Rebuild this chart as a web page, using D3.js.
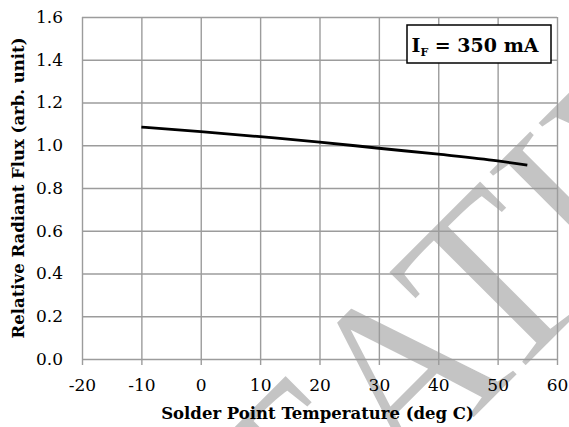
<!DOCTYPE html>
<html>
<head>
<meta charset="utf-8">
<script src="https://cdn.jsdelivr.net/npm/d3@7"></script>
<style>
  body { margin: 0; background: #fff; }
</style>
</head>
<body>
<div id="chart"></div>
<script>
// Data
const temps = [-10, 0, 10, 20, 30, 40, 50, 55];
const flux = [1.085, 1.064, 1.040, 1.015, 0.986, 0.958, 0.927, 0.907];
const xTicks = [-20, -10, 0, 10, 20, 30, 40, 50, 60];
const yTicks = [0, 0.2, 0.4, 0.6, 0.8, 1.0, 1.2, 1.4, 1.6];
const xLabel = "Solder Point Temperature (deg C)";
const yLabel = "Relative Radiant Flux (arb. unit)";
const legendMain = "I";
const legendSub = "F";
const legendRest = " = 350 mA";
const watermarkLeft = "TENT";
const watermarkRight = "ATIVE";

const width = 569;
const height = 427;
const marginTop = 17;
const marginRight = 12;
const marginBottom = 68;
const marginLeft = 82;

const data = temps.map((t, i) => ({ t, v: flux[i] }));

const x = d3.scaleLinear()
    .domain([-20, 60])
    .range([marginLeft, width - marginRight]);

const y = d3.scaleLinear()
    .domain([0, 1.6])
    .range([height - marginBottom, marginTop]);

const svg = d3.select("#chart")
    .append("svg")
    .attr("width", width)
    .attr("height", height)
    .attr("viewBox", [0, 0, width, height]);

svg.append("rect")
    .attr("width", width)
    .attr("height", height)
    .attr("fill", "#fff");

// Watermark behind the chart
const wm = svg.append("g")
    .attr("transform", "translate(404,488) rotate(-45) scale(0.9,1)")
    .attr("fill", "#c4c4c4")
    .attr("stroke", "#fff")
    .attr("stroke-width", 1.5)
    .style("font-family", "'Liberation Serif', serif")
    .style("font-size", "250px");
wm.append("text").attr("text-anchor", "end").text(watermarkLeft);
wm.append("text").attr("text-anchor", "start").text(watermarkRight);

const serif = "'DejaVu Serif', serif";
const gridColor = "#9c9c9c";

// Vertical grid lines + x axis
svg.append("g")
    .attr("transform", `translate(0,${height - marginBottom})`)
    .call(d3.axisBottom(x).tickValues(xTicks).tickFormat(d => String(d)).tickSize(6).tickPadding(14))
    .call(g => g.select(".domain").remove())
    .call(g => g.selectAll(".tick line")
        .attr("stroke", gridColor)
        .attr("stroke-width", 1.4)
        .attr("y1", -(height - marginBottom - marginTop)))
    .call(g => g.selectAll(".tick text")
        .attr("fill", "#000")
        .style("font-family", serif)
        .style("font-size", "17px"));

// Horizontal grid lines + y axis
svg.append("g")
    .attr("transform", `translate(${marginLeft},0)`)
    .call(d3.axisLeft(y).tickValues(yTicks).tickFormat(d3.format(".1f")).tickSize(6).tickPadding(13))
    .call(g => g.select(".domain").remove())
    .call(g => g.selectAll(".tick line")
        .attr("stroke", gridColor)
        .attr("stroke-width", 1.4)
        .attr("x2", width - marginLeft - marginRight))
    .call(g => g.selectAll(".tick text")
        .attr("fill", "#000")
        .style("font-family", serif)
        .style("font-size", "17px"));

// The data line
svg.append("path")
    .datum(data)
    .attr("fill", "none")
    .attr("stroke", "#000")
    .attr("stroke-width", 2.8)
    .attr("d", d3.line()
        .x(d => x(d.t))
        .y(d => y(d.v))
        .curve(d3.curveMonotoneX));

// Legend box
const lg = svg.append("g");
lg.append("rect")
    .attr("x", 407)
    .attr("y", 25)
    .attr("width", 144)
    .attr("height", 38)
    .attr("fill", "#fff")
    .attr("stroke", "#000")
    .attr("stroke-width", 1.5);
const lt = lg.append("text")
    .attr("x", 475)
    .attr("y", 52)
    .attr("text-anchor", "middle")
    .style("font-family", serif)
    .style("font-weight", "bold")
    .style("font-size", "19px");
lt.append("tspan").text(legendMain);
lt.append("tspan").attr("dy", 4).style("font-size", "11px").text(legendSub);
lt.append("tspan").attr("dy", -4).text(legendRest);

// Axis titles
svg.append("text")
    .attr("x", (marginLeft + width - marginRight) / 2 - 2)
    .attr("y", 419)
    .attr("text-anchor", "middle")
    .style("font-family", serif)
    .style("font-weight", "bold")
    .style("font-size", "16.5px")
    .text(xLabel);

svg.append("text")
    .attr("transform", `translate(24,${(marginTop + height - marginBottom) / 2}) rotate(-90)`)
    .attr("text-anchor", "middle")
    .style("font-family", serif)
    .style("font-weight", "bold")
    .style("font-size", "16.5px")
    .text(yLabel);
</script>
</body>
</html>
